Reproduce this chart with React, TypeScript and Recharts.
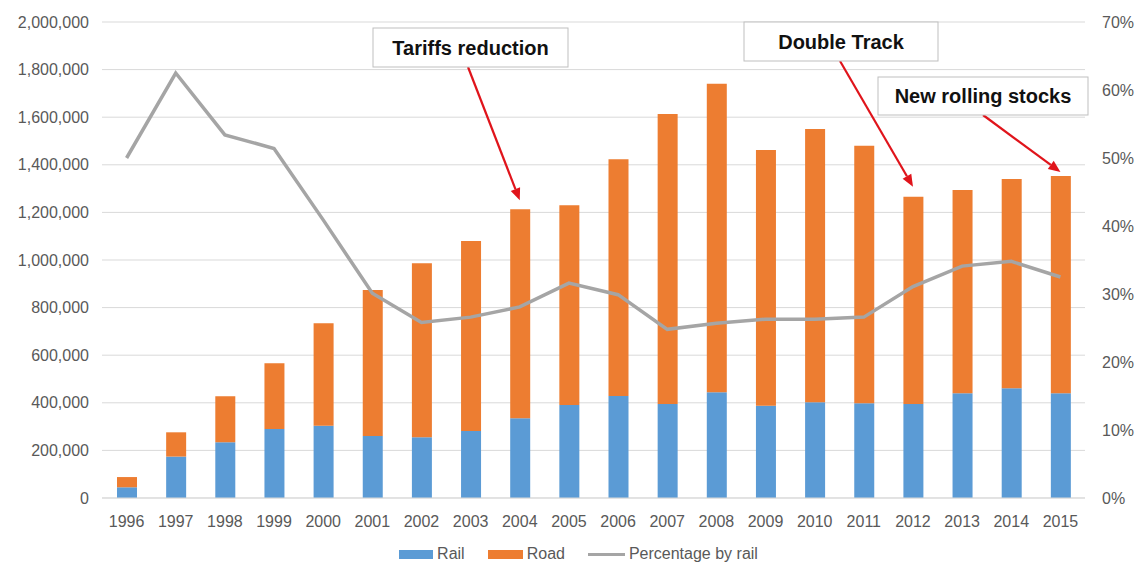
import React from "react";
import {
  ComposedChart,
  Bar,
  Line,
  XAxis,
  YAxis,
  CartesianGrid,
  Legend,
  ReferenceDot,
} from "recharts";

const years = [
  "1996", "1997", "1998", "1999", "2000", "2001", "2002", "2003", "2004", "2005",
  "2006", "2007", "2008", "2009", "2010", "2011", "2012", "2013", "2014", "2015",
];
const rail = [
  45000, 174000, 234000, 290000, 304000, 260000, 255000, 281000, 335000, 391000,
  429000, 395000, 444000, 388000, 402000, 398000, 395000, 440000, 461000, 440000,
];
const road = [
  43000, 102000, 193000, 276000, 430000, 614000, 731000, 799000, 878000, 839000,
  994000, 1218000, 1297000, 1074000, 1148000, 1082000, 871000, 854000, 879000, 913000,
];
const pctByRail = [
  0.5, 0.625, 0.534, 0.514, 0.409, 0.301, 0.258, 0.266, 0.281, 0.316,
  0.299, 0.248, 0.257, 0.263, 0.263, 0.266, 0.311, 0.341, 0.348, 0.325,
];
const leftTicks = [0, 200000, 400000, 600000, 800000, 1000000, 1200000, 1400000, 1600000, 1800000, 2000000];
const rightTicks = [0, 0.1, 0.2, 0.3, 0.4, 0.5, 0.6, 0.7];

const noteYears = ["2004", "2012", "2015"];
const noteTexts = ["Tariffs reduction", "Double Track", "New rolling stocks"];

// box placement (pixels) and where the arrow leaves the box
const noteBoxes = [
  { x: 373, y: 28, w: 195, h: 39, sx: 468, sy: 67, gap: 9 },
  { x: 744, y: 22, w: 194, h: 39, sx: 840, sy: 61, gap: 10 },
  { x: 878, y: 77, w: 210, h: 38, sx: 983, sy: 115, gap: 4 },
];

const data = years.map((y, i) => ({
  year: y,
  rail: rail[i],
  road: road[i],
  pct: pctByRail[i],
}));

const FONT = "'Liberation Sans', Arial, sans-serif";
const TICK = { fill: "#595959", fontSize: 16, fontFamily: FONT };

const makeNote = (i: number) => (props: any) => {
  const { cx, cy } = props;
  const b = noteBoxes[i];
  const tx = cx;
  const ty = cy - b.gap;
  const dx = tx - b.sx;
  const dy = ty - b.sy;
  const len = Math.sqrt(dx * dx + dy * dy);
  const ux = dx / len;
  const uy = dy / len;
  const headLen = 12;
  const headW = 5;
  const bx = tx - ux * headLen;
  const by = ty - uy * headLen;
  const p1 = `${tx},${ty}`;
  const p2 = `${bx - uy * headW},${by + ux * headW}`;
  const p3 = `${bx + uy * headW},${by - ux * headW}`;
  return (
    <g>
      <line x1={b.sx} y1={b.sy} x2={bx} y2={by} stroke="#E0141B" strokeWidth={2.2} />
      <polygon points={`${p1} ${p2} ${p3}`} fill="#E0141B" />
      <rect x={b.x} y={b.y} width={b.w} height={b.h} fill="#fff" stroke="#BFBFBF" strokeWidth={1} />
      <text
        x={b.x + b.w / 2}
        y={b.y + b.h / 2 + 7}
        textAnchor="middle"
        fontFamily={FONT}
        fontWeight="bold"
        fontSize={20}
        fill="#111"
      >
        {noteTexts[i]}
      </text>
    </g>
  );
};

const renderLegend = () => (
  <div
    style={{
      display: "flex",
      justifyContent: "center",
      alignItems: "center",
      height: 20,
      paddingLeft: 18,
      fontFamily: FONT,
      fontSize: 16,
      color: "#595959",
    }}
  >
    <span style={{ width: 34, height: 9, background: "#5B9BD5", marginRight: 4 }} />
    <span style={{ marginRight: 23 }}>Rail</span>
    <span style={{ width: 35, height: 9, background: "#ED7D31", marginRight: 4 }} />
    <span style={{ marginRight: 23 }}>Road</span>
    <span style={{ width: 37, height: 3, background: "#A5A5A5", marginRight: 4 }} />
    <span>Percentage by rail</span>
  </div>
);

export default function App() {
  return (
    <div style={{ position: "absolute", left: 0, top: 0, background: "#fff" }}>
      <ComposedChart
        width={1139}
        height={563}
        data={data}
        margin={{ top: 22, right: 0, left: 0, bottom: 15 }}
        barSize={20}
      >
        <CartesianGrid vertical={false} stroke="#D9D9D9" yAxisId="left" />
        <XAxis
          dataKey="year"
          axisLine={{ stroke: "#D9D9D9" }}
          tickLine={false}
          tick={TICK}
          tickMargin={12}
          interval={0}
        />
        <YAxis
          yAxisId="left"
          width={102}
          domain={[0, 2000000]}
          ticks={leftTicks}
          axisLine={false}
          tickLine={false}
          tick={TICK}
          tickMargin={7}
          tickFormatter={(v: number) => v.toLocaleString("en-US")}
        />
        <YAxis
          yAxisId="right"
          orientation="right"
          width={54}
          domain={[0, 0.7]}
          ticks={rightTicks}
          axisLine={false}
          tickLine={false}
          tick={{ ...TICK, textAnchor: "start" }}
          tickMargin={11}
          tickFormatter={(v: number) => `${Math.round(v * 100)}%`}
        />
        <Legend verticalAlign="bottom" content={renderLegend} wrapperStyle={{ bottom: -1 }} />
        <Bar yAxisId="left" dataKey="rail" name="Rail" stackId="a" fill="#5B9BD5" isAnimationActive={false} />
        <Bar yAxisId="left" dataKey="road" name="Road" stackId="a" fill="#ED7D31" isAnimationActive={false} />
        <Line
          yAxisId="right"
          dataKey="pct"
          name="Percentage by rail"
          stroke="#A5A5A5"
          strokeWidth={3.5}
          dot={false}
          type="linear"
          isAnimationActive={false}
        />
        {noteYears.map((yr, i) => {
          const idx = years.indexOf(yr);
          return (
            <ReferenceDot
              key={yr}
              yAxisId="left"
              x={yr}
              y={rail[idx] + road[idx]}
              r={1}
              shape={makeNote(i)}
            />
          );
        })}
      </ComposedChart>
    </div>
  );
}
